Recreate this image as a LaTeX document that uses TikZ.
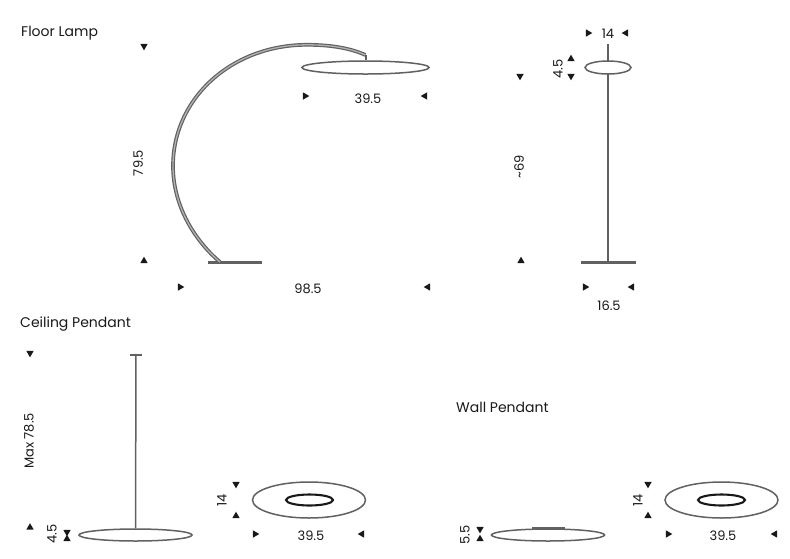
\documentclass[tikz,border=0pt]{standalone}
\usepackage{fontspec}
\setmainfont{Poppins}
\usetikzlibrary{shapes.geometric}
\definecolor{ink}{gray}{0.1}
\definecolor{linegray}{gray}{0.38}
\tikzset{
  x=1pt,y=-1pt,
  tri/.style={regular polygon,regular polygon sides=3,fill=ink,inner sep=0pt,minimum size=8.6pt},
  triR/.style={tri,rotate=-90},
  triL/.style={tri,rotate=90},
  triD/.style={tri,rotate=180},
  triU/.style={tri},
  lbl/.style={font=\fontsize{13}{15}\selectfont,text=ink,inner sep=0pt},
  vlbl/.style={lbl,rotate=90},
  title/.style={lbl,font=\fontsize{14}{16}\selectfont},
  disc/.style={draw=linegray,fill=white,line width=1.5pt,ellipse,inner sep=0pt},
  hole/.style={draw=ink,fill=white,line width=2.1pt,ellipse,inner sep=0pt},
  rod/.style={draw=linegray,line width=2pt},
  base/.style={draw=linegray,line width=2.2pt},
  tube/.style={draw=linegray,line width=1.2pt,double=gray!60,double distance=1.3pt},
}
\begin{document}
\begin{tikzpicture}
\useasboundingbox (0,0) rectangle (790,558);
% titles
\node[title,anchor=west] (t1) at (21,33) {Floor Lamp};
\node[title,anchor=west] (t2) at (20,324.5) {Ceiling Pendant};
\node[title,anchor=west] (t3) at (456,407.5) {Wall Pendant};
% floor lamp, side
\coordinate (fb1) at (208,262.5);
\coordinate (fb2) at (262,262.5);
\draw[base] (fb1) -- (fb2);
\coordinate (ftube) at (220,262);
\coordinate (ftop) at (307,44.8);
\coordinate (fend) at (365.5,55);
\draw[tube] (ftube) .. controls (194,240) and (173,205) .. (173,166)
  .. controls (173,98) and (232,44.8) .. (ftop)
  .. controls (330,44.8) and (350,48) .. (fend);
\node[disc,minimum width=127pt,minimum height=13pt] (fdisc) at (365.5,67.5) {};
\draw[rod] (fend) -- (fdisc.north);
\node[triD] (a1) at (144,46) {};
\node[triU] (a2) at (144,261) {};
\node[vlbl] (l1) at (138,163) {79.5};
\node[triR] (a3) at (305,96) {};
\node[triL] (a4) at (425,96) {};
\node[lbl] (l2) at (368,98.5) {39.5};
\node[triR] (a5) at (180,287) {};
\node[triL] (a6) at (428,287) {};
\node[lbl] (l3) at (308,288.5) {98.5};
% floor lamp, front
\coordinate (gb1) at (581,262.5);
\coordinate (gb2) at (636,262.5);
\coordinate (gtop) at (608,44);
\coordinate (gfoot) at (608,262.5);
\draw[rod] (gtop) -- (gfoot);
\draw[base] (gb1) -- (gb2);
\node[disc,minimum width=46pt,minimum height=13pt] (gdisc) at (608,67.5) {};
\node[triR] (b1) at (588,33) {};
\node[triL] (b2) at (626,33) {};
\node[lbl] (l4) at (608,33.5) {14};
\node[triU] (b3) at (571,59) {};
\node[triD] (b4) at (571,76) {};
\node[vlbl] (l5) at (558,69) {4.5};
\node[triD] (b5) at (520,76) {};
\node[triU] (b6) at (521,261) {};
\node[vlbl] (l6) at (519,167) {\textasciitilde 69};
\node[triR] (b7) at (585,287) {};
\node[triL] (b8) at (632,287) {};
\node[lbl] (l7) at (609,305.5) {16.5};
% ceiling pendant
\coordinate (c1) at (130,355);
\coordinate (c2) at (142,355);
\coordinate (c3) at (136,355);
\draw[base,line width=2.8pt] (c1) -- (c2);
\node[disc,minimum width=113pt,minimum height=12pt] (cdisc) at (135.5,535) {};
\draw[rod,line width=1.5pt] (c3) -- (cdisc.north);
\node[triD] (d1) at (30,353) {};
\node[triU] (d2) at (30,527.5) {};
\node[vlbl] (l8) at (29,441) {Max 78.5};
\node[triD] (d3) at (67,532) {};
\node[triU] (d4) at (67,539) {};
\node[vlbl] (l9) at (52,534) {4.5};
\node[disc,minimum width=113pt,minimum height=36pt] (ctop) at (309,500) {};
\node[hole,minimum width=47pt,minimum height=11pt] (chole) at (309.5,500) {};
\node[triD] (d5) at (236,484) {};
\node[triU] (d6) at (236,516) {};
\node[vlbl] (l10) at (222,500) {14};
\node[triR] (d7) at (255,534) {};
\node[triL] (d8) at (362,534) {};
\node[lbl] (l11) at (311,535.5) {39.5};
% wall pendant
\coordinate (w1) at (532,528);
\coordinate (w2) at (565,528);
\draw[base,line width=3pt] (w1) -- (w2);
\node[disc,minimum width=113pt,minimum height=12pt] (wdisc) at (548,535) {};
\node[triD] (e1) at (480,529) {};
\node[triU] (e2) at (480,539) {};
\node[vlbl] (l12) at (465,535) {5.5};
\node[disc,minimum width=113pt,minimum height=36pt] (wtop) at (721.5,500) {};
\node[hole,minimum width=47pt,minimum height=11pt] (whole) at (721.5,500) {};
\node[triD] (e3) at (648,484) {};
\node[triU] (e4) at (648,516) {};
\node[vlbl] (l13) at (638,500) {14};
\node[triR] (e5) at (668,534) {};
\node[triL] (e6) at (775,534) {};
\node[lbl] (l14) at (723,535.5) {39.5};
\end{tikzpicture}
\end{document}
